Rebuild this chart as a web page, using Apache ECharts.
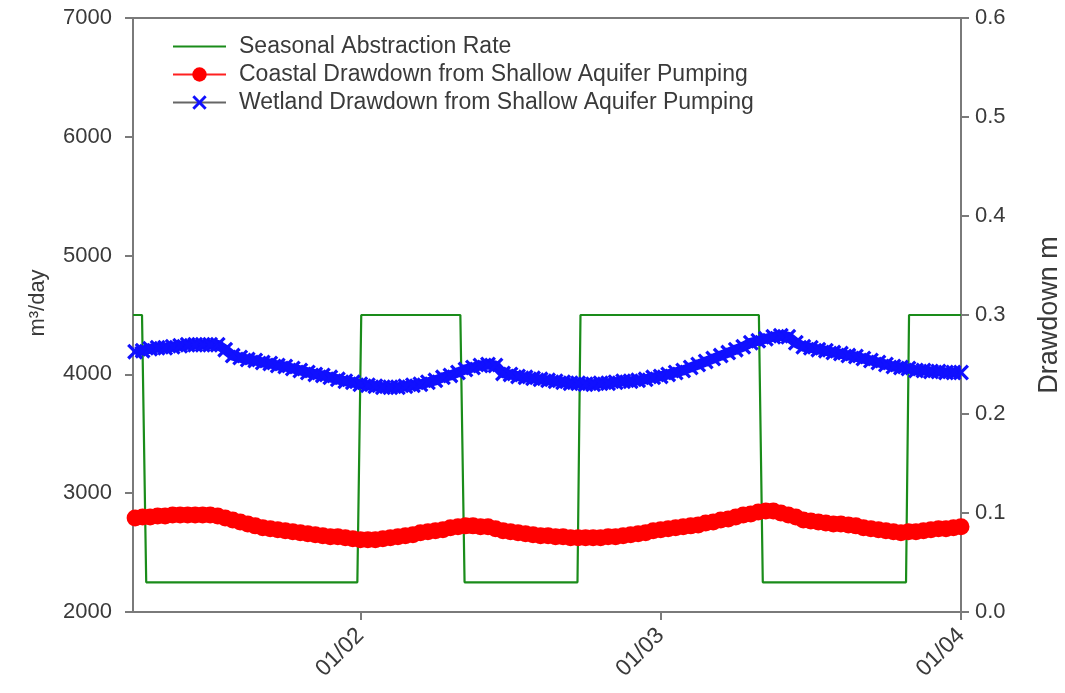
<!DOCTYPE html>
<html>
<head>
<meta charset="utf-8">
<script src="https://cdn.jsdelivr.net/npm/echarts@6/dist/echarts.min.js"></script>
<style>
html,body{margin:0;padding:0;background:#fff;}
#chart{width:1065px;height:693px;}
</style>
</head>
<body>
<div id="chart"></div>
<script>
// x-axis positions (1 = 01/02, 2 = 01/03, 3 = 01/04)
const xTickValues = [1, 2, 3];
const xTickLabels = ['01/02', '01/03', '01/04'];
const leftTicks = [2000, 3000, 4000, 5000, 6000, 7000];
const rightTicks = [0.0, 0.1, 0.2, 0.3, 0.4, 0.5, 0.6];

// Seasonal abstraction rate (m3/day), step function
const abstractionT = [0.243, 0.273, 0.287, 0.990, 1.003, 1.333, 1.347, 1.723, 1.733, 2.327, 2.340, 2.817, 2.827, 3.000];
const abstractionRate = [4500, 4500, 2250, 2250, 4500, 4500, 2250, 2250, 4500, 4500, 2250, 2250, 4500, 4500];

// sample times for the drawdown series
const sampleT = [
0.250,0.275,0.300,0.325,0.350,0.375,0.400,0.425,0.450,0.475,
0.500,0.525,0.550,0.575,0.600,0.625,0.650,0.675,0.700,0.725,
0.750,0.775,0.800,0.825,0.850,0.875,0.900,0.925,0.950,0.975,
1.000,1.025,1.050,1.075,1.100,1.125,1.150,1.175,1.200,1.225,
1.250,1.275,1.300,1.325,1.350,1.375,1.400,1.425,1.450,1.475,
1.500,1.525,1.550,1.575,1.600,1.625,1.650,1.675,1.700,1.725,
1.750,1.775,1.800,1.825,1.850,1.875,1.900,1.925,1.950,1.975,
2.000,2.025,2.050,2.075,2.100,2.125,2.150,2.175,2.200,2.225,
2.250,2.275,2.300,2.325,2.350,2.375,2.400,2.425,2.450,2.475,
2.500,2.525,2.550,2.575,2.600,2.625,2.650,2.675,2.700,2.725,
2.750,2.775,2.800,2.825,2.850,2.875,2.900,2.925,2.950,2.975,
3.000];

// Coastal drawdown (m)
const coastalDrawdown = [
0.095,0.096,0.096,0.097,0.097,0.098,0.098,0.098,0.098,0.098,
0.098,0.097,0.095,0.093,0.091,0.089,0.087,0.085,0.084,0.083,
0.082,0.081,0.080,0.079,0.078,0.077,0.076,0.076,0.075,0.074,
0.073,0.073,0.073,0.074,0.075,0.076,0.077,0.078,0.080,0.081,
0.082,0.083,0.085,0.086,0.087,0.087,0.086,0.086,0.084,0.082,
0.081,0.080,0.079,0.078,0.077,0.077,0.076,0.076,0.075,0.075,
0.075,0.075,0.075,0.076,0.076,0.077,0.078,0.079,0.080,0.082,
0.083,0.084,0.085,0.086,0.087,0.088,0.090,0.091,0.093,0.094,
0.096,0.098,0.099,0.101,0.102,0.102,0.100,0.098,0.096,0.093,
0.092,0.091,0.090,0.089,0.089,0.088,0.087,0.085,0.084,0.083,
0.082,0.081,0.080,0.081,0.081,0.082,0.083,0.084,0.084,0.085,
0.086];

// Wetland drawdown (m)
const wetlandDrawdown = [
0.263,0.264,0.266,0.267,0.267,0.268,0.269,0.270,0.270,0.270,
0.270,0.270,0.265,0.259,0.257,0.255,0.254,0.252,0.251,0.249,
0.248,0.246,0.244,0.242,0.240,0.239,0.237,0.235,0.233,0.232,
0.230,0.229,0.228,0.227,0.227,0.227,0.228,0.229,0.230,0.232,
0.234,0.237,0.239,0.242,0.245,0.247,0.249,0.250,0.249,0.241,
0.240,0.238,0.237,0.236,0.235,0.234,0.233,0.232,0.231,0.231,
0.230,0.230,0.231,0.231,0.232,0.233,0.233,0.234,0.235,0.237,
0.238,0.240,0.242,0.244,0.247,0.250,0.253,0.256,0.259,0.262,
0.265,0.268,0.272,0.274,0.276,0.278,0.279,0.278,0.272,0.268,
0.267,0.265,0.264,0.262,0.261,0.259,0.258,0.256,0.254,0.252,
0.250,0.248,0.247,0.246,0.244,0.244,0.243,0.243,0.242,0.242,
0.242];

const textColor = '#3a3a3a';
const axisColor = '#7a7a7a';
const FONT = 'Liberation Sans, Arial, sans-serif';

const xMark = 'path://M0,2L2,0L7,5L12,0L14,2L9,7L14,12L12,14L7,9L2,14L0,12L5,7Z';

const chart = echarts.init(document.getElementById('chart'));
chart.setOption({
  animation: false,
  backgroundColor: '#fff',
  textStyle: { fontFamily: FONT },
  grid: { left: 133, right: 104, top: 18, bottom: 81, outerBoundsMode: 'none', containLabel: false, show: true, borderColor: axisColor, borderWidth: 2, backgroundColor: 'transparent' },
  legend: {
    orient: 'vertical',
    left: 172, top: 35, padding: 0,
    itemWidth: 53, itemHeight: 18, itemGap: 5,
    textStyle: { color: textColor, fontSize: 23, fontFamily: FONT, lineHeight: 23, padding: [0, 0, 0, 8] },
    data: [
      { name: 'Seasonal Abstraction Rate', itemStyle: { opacity: 0 } },
      { name: 'Coastal Drawdown from Shallow Aquifer Pumping', lineStyle: { color: '#ff2020', width: 2 } },
      { name: 'Wetland Drawdown from Shallow Aquifer Pumping', lineStyle: { color: '#666666', width: 2 } }
    ]
  },
  xAxis: {
    type: 'value', min: 0.243, max: 3.0,
    axisLine: { lineStyle: { color: axisColor, width: 2 } },
    axisTick: { show: true, customValues: xTickValues, length: 8, lineStyle: { color: axisColor, width: 2 } },
    axisLabel: {
      customValues: xTickValues,
      formatter: v => xTickLabels[xTickValues.indexOf(Math.round(v))] || '',
      rotate: 45, margin: 20, color: textColor, fontSize: 23, fontFamily: FONT
    },
    splitLine: { show: false }
  },
  yAxis: [
    {
      type: 'value', min: 2000, max: 7000, interval: 1000,
      name: 'm³/day', nameLocation: 'middle', nameGap: 84, nameRotate: 90,
      nameTextStyle: { color: textColor, fontSize: 22, fontFamily: FONT, padding: [0, 0, 0, 24] },
      axisLine: { show: true, lineStyle: { color: axisColor, width: 2 } },
      axisTick: { show: true, length: 8, lineStyle: { color: axisColor, width: 2 } },
      axisLabel: { color: textColor, fontSize: 22, margin: 21, fontFamily: FONT, formatter: v => String(leftTicks[leftTicks.indexOf(v)] ?? v) },
      splitLine: { show: false }
    },
    {
      type: 'value', min: 0, max: 0.6, interval: 0.1, position: 'right',
      name: 'Drawdown m', nameLocation: 'middle', nameGap: 75, nameRotate: 90,
      nameTextStyle: { color: textColor, fontSize: 27, fontFamily: FONT },
      axisLine: { show: true, lineStyle: { color: axisColor, width: 2 } },
      axisTick: { show: true, length: 8, lineStyle: { color: axisColor, width: 2 } },
      axisLabel: { color: textColor, fontSize: 22, margin: 14, fontFamily: FONT, formatter: v => v.toFixed(1) },
      splitLine: { show: false }
    }
  ],
  series: [
    {
      name: 'Seasonal Abstraction Rate', type: 'line', yAxisIndex: 0,
      data: abstractionT.map((t, i) => [t, abstractionRate[i]]),
      showSymbol: false, symbol: 'none',
      lineStyle: { color: '#1a8c1a', width: 2.2 }, itemStyle: { color: '#1a8c1a' },
      z: 2
    },
    {
      name: 'Coastal Drawdown from Shallow Aquifer Pumping', type: 'line', yAxisIndex: 1,
      data: sampleT.map((t, i) => [t, coastalDrawdown[i]]),
      symbol: 'circle', symbolSize: 17, showAllSymbol: true,
      lineStyle: { color: '#ff0000', width: 12 }, itemStyle: { color: '#ff0000' },
      z: 3
    },
    {
      name: 'Wetland Drawdown from Shallow Aquifer Pumping', type: 'line', yAxisIndex: 1,
      data: sampleT.map((t, i) => [t, wetlandDrawdown[i]]),
      symbol: xMark, symbolSize: 16, showAllSymbol: true,
      lineStyle: { color: '#1010ff', width: 10 }, itemStyle: { color: '#1010ff' },
      z: 3
    }
  ]
});
</script>
</body>
</html>
